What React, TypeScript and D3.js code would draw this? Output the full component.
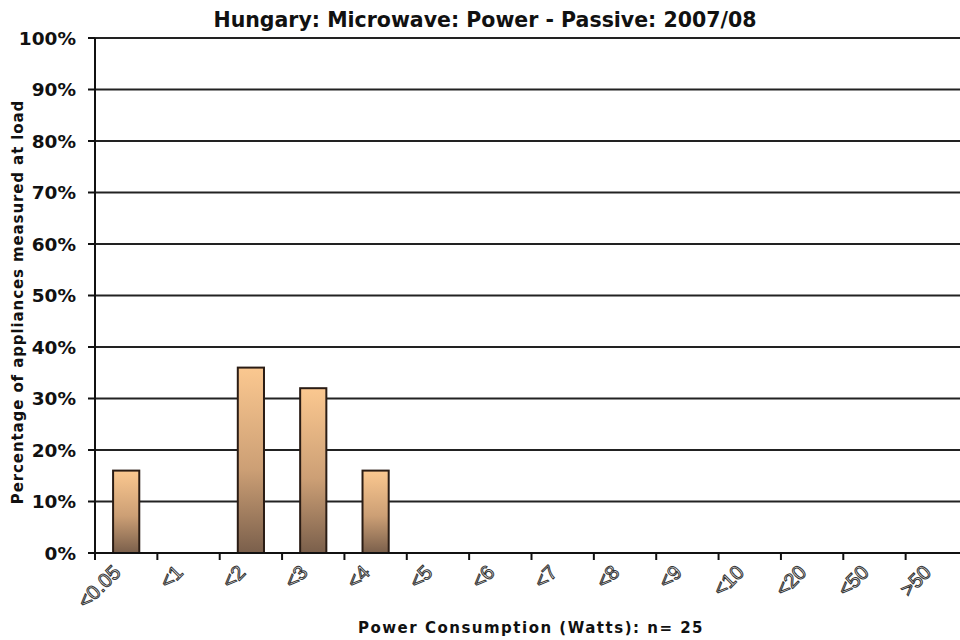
import React, { useRef, useEffect } from "react";
import * as d3 from "d3";

const categories = ["<0.05", "<1", "<2", "<3", "<4", "<5", "<6", "<7", "<8", "<9", "<10", "<20", "<50", ">50"];
const shares = [16, 0, 36, 32, 16, 0, 0, 0, 0, 0, 0, 0, 0, 0];
const yTicks = [0, 10, 20, 30, 40, 50, 60, 70, 80, 90, 100];

const title = "Hungary: Microwave: Power - Passive: 2007/08";
const xTitle = "Power Consumption (Watts):  n= 25";
const yTitle = "Percentage of appliances measured at load";

const App = () => {
  const ref = useRef<SVGSVGElement>(null);

  useEffect(() => {
    const width = 960;
    const height = 640;
    const left = 95;
    const right = 968; // plot runs past the picture edge, as in the original
    const top = 38;
    const bottom = 553;

    const svg = d3.select(ref.current);
    svg.selectAll("*").remove();
    svg.attr("width", width).attr("height", height);

    const defs = svg.append("defs");
    const grad = defs
      .append("linearGradient")
      .attr("id", "barGrad")
      .attr("x1", 0)
      .attr("y1", 0)
      .attr("x2", 0)
      .attr("y2", 1);
    grad.append("stop").attr("offset", "0%").attr("stop-color", "#fbc890");
    grad.append("stop").attr("offset", "55%").attr("stop-color", "#cc9f75");
    grad.append("stop").attr("offset", "100%").attr("stop-color", "#7a5f4b");

    const x = d3.scaleBand().domain(categories).range([left, right]).paddingInner(0.58).paddingOuter(0.29);
    const xEdge = d3.scaleLinear().domain([0, categories.length]).range([left, right]);
    const y = d3.scaleLinear().domain([0, 100]).range([bottom, top]);

    // gridlines
    svg
      .append("g")
      .selectAll("line")
      .data(yTicks.filter(t => t > 0))
      .join("line")
      .attr("x1", left)
      .attr("x2", width)
      .attr("y1", d => y(d))
      .attr("y2", d => y(d))
      .attr("stroke", "#222")
      .attr("stroke-width", 2);

    // bars
    svg
      .append("g")
      .selectAll("rect")
      .data(categories.map((c, i) => ({ c, v: shares[i] })).filter(d => d.v > 0))
      .join("rect")
      .attr("x", d => x(d.c)!)
      .attr("width", x.bandwidth())
      .attr("y", d => y(d.v))
      .attr("height", d => y(0) - y(d.v))
      .attr("fill", "url(#barGrad)")
      .attr("stroke", "#2a1c14")
      .attr("stroke-width", 2);

    // y axis
    const yAxis = svg.append("g");
    yAxis
      .append("line")
      .attr("x1", left)
      .attr("x2", left)
      .attr("y1", top)
      .attr("y2", bottom + 7)
      .attr("stroke", "#111")
      .attr("stroke-width", 2);
    yAxis
      .selectAll("line.tick")
      .data(yTicks)
      .join("line")
      .attr("class", "tick")
      .attr("x1", left - 7)
      .attr("x2", left)
      .attr("y1", d => y(d))
      .attr("y2", d => y(d))
      .attr("stroke", "#111")
      .attr("stroke-width", 2);
    yAxis
      .selectAll("text")
      .data(yTicks)
      .join("text")
      .attr("x", 76)
      .attr("y", d => y(d))
      .attr("dy", "0.36em")
      .attr("text-anchor", "end")
      .attr("font-family", "'DejaVu Sans', Verdana, sans-serif")
      .attr("font-weight", "bold")
      .attr("font-size", 18.5)
      .attr("fill", "#111")
      .text(d => `${d}%`);

    // x axis
    const xAxis = svg.append("g");
    xAxis
      .append("line")
      .attr("x1", left)
      .attr("x2", width)
      .attr("y1", bottom)
      .attr("y2", bottom)
      .attr("stroke", "#111")
      .attr("stroke-width", 2);
    xAxis
      .selectAll("line.tick")
      .data(d3.range(categories.length))
      .join("line")
      .attr("class", "tick")
      .attr("x1", d => xEdge(d))
      .attr("x2", d => xEdge(d))
      .attr("y1", bottom)
      .attr("y2", bottom + 7)
      .attr("stroke", "#111")
      .attr("stroke-width", 2);
    xAxis
      .selectAll("text")
      .data(categories)
      .join("text")
      .attr("transform", d => `translate(${x(d)! + x.bandwidth() / 2 - 15},${bottom + 10}) rotate(-45)`)
      .attr("text-anchor", "end")
      .attr("dy", "0.75em")
      .attr("font-family", "'Liberation Sans', Arial, sans-serif")
      .attr("font-size", 20)
      .attr("fill", "#fff")
      .attr("stroke", "#333")
      .attr("stroke-width", 1)
      .text(d => d);

    // titles
    svg
      .append("text")
      .attr("x", 485)
      .attr("y", 27)
      .attr("text-anchor", "middle")
      .attr("font-family", "'DejaVu Sans', Verdana, sans-serif")
      .attr("font-weight", "bold")
      .attr("font-size", 20.5)
      .attr("fill", "#111")
      .text(title);

    svg
      .append("text")
      .attr("x", 531)
      .attr("y", 633)
      .attr("text-anchor", "middle")
      .attr("font-family", "'DejaVu Sans', Verdana, sans-serif")
      .attr("font-weight", "bold")
      .attr("font-size", 15)
      .attr("letter-spacing", 1.5)
      .attr("fill", "#111")
      .text(xTitle);

    svg
      .append("text")
      .attr("transform", `translate(23,302) rotate(-90)`)
      .attr("text-anchor", "middle")
      .attr("font-family", "'DejaVu Sans', Verdana, sans-serif")
      .attr("font-weight", "bold")
      .attr("font-size", 15)
      .attr("letter-spacing", 0.9)
      .attr("fill", "#111")
      .text(yTitle);
  }, []);

  return (
    <svg ref={ref} style={{ position: "absolute", left: 0, top: 0, background: "#fff" }}></svg>
  );
};

export default App;
